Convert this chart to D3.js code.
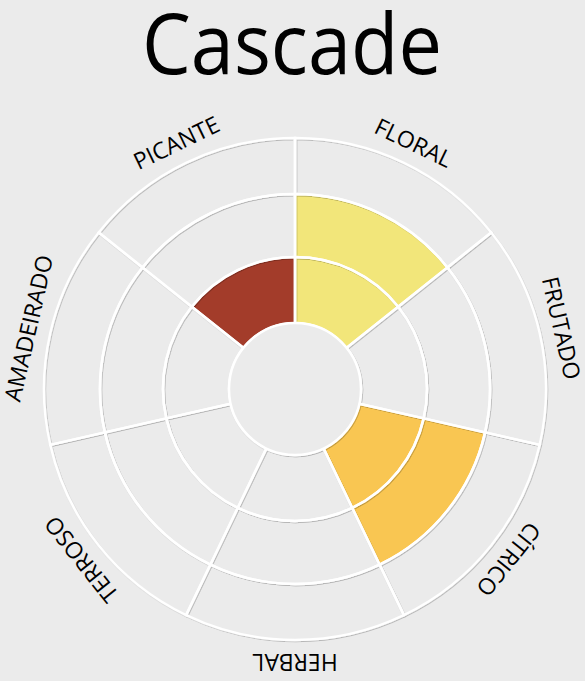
<!DOCTYPE html>
<html>
<head>
<meta charset="utf-8">
<script src="https://cdn.jsdelivr.net/npm/d3@7"></script>
<style>
  body { margin: 0; background: #ebebeb; }
  svg { display: block; }
  .label { font-family: "Open Sans", sans-serif; font-size: 23px; fill: #000; }
  .title { font-family: "Open Sans", sans-serif; font-size: 84px; fill: #000; }
</style>
</head>
<body>
<script>
// aroma categories, clockwise from the top
const categories = ["FLORAL", "FRUTADO", "CÍTRICO", "HERBAL", "TERROSO", "AMADEIRADO", "PICANTE"];
const intensity = [2, 0, 2, 0, 0, 0, 1];
const colors = ["#f2e67a", "#e8913a", "#f9c652", "#8fae4a", "#8a6a45", "#b07a4a", "#a33c2a"];
const levels = [1, 2, 3];
const title = "Cascade";

const width = 585, height = 681;
const cx = 295, cy = 389;
const bg = "#ebebeb";

const svg = d3.select("body").append("svg")
    .attr("width", width)
    .attr("height", height);

svg.append("rect").attr("width", width).attr("height", height).attr("fill", bg);

const defs = svg.append("defs");
const shadow = defs.append("filter").attr("id", "shadow")
    .attr("x", "-10%").attr("y", "-10%").attr("width", "120%").attr("height", "120%");
shadow.append("feDropShadow")
    .attr("dx", 0.8).attr("dy", 1)
    .attr("stdDeviation", 0.6)
    .attr("flood-color", "#000")
    .attr("flood-opacity", 0.22);

// radius per ring level (0 = inner hole)
const r = d3.scaleLinear().domain([0, 1, 2, 3]).range([66, 132, 195, 251]);
const angle = d3.scaleBand().domain(categories).range([0, 2 * Math.PI]);

const arc = d3.arc()
    .innerRadius(d => r(d.level - 1))
    .outerRadius(d => r(d.level))
    .startAngle(d => angle(d.cat))
    .endAngle(d => angle(d.cat) + angle.bandwidth());

const cells = [];
categories.forEach((c, i) => {
  levels.forEach(l => {
    cells.push({cat: c, level: l, filled: l <= intensity[i], color: colors[i]});
  });
});

const g = svg.append("g").attr("transform", `translate(${cx},${cy})`);

// fills
g.append("g").selectAll("path")
  .data(cells)
  .join("path")
    .attr("d", arc)
    .attr("fill", d => d.filled ? d.color : bg);

// grid lines on top with a soft shadow
const grid = g.append("g").attr("filter", "url(#shadow)");
grid.selectAll("path")
  .data(cells)
  .join("path")
    .attr("d", arc)
    .attr("fill", "none")
    .attr("stroke", "#fff")
    .attr("stroke-width", 2.5);

grid.append("circle")
    .attr("r", r(0))
    .attr("fill", bg)
    .attr("stroke", "#fff")
    .attr("stroke-width", 2.5);

// labels, rotated to follow the ring
g.append("g").selectAll("text")
  .data(categories)
  .join("text")
    .attr("class", "label")
    .attr("text-anchor", "middle")
    .attr("transform", d => {
      const a = (angle(d) + angle.bandwidth() / 2) * 180 / Math.PI;
      return `rotate(${a}) translate(0,${-265})`;
    })
    .text(d => d);

svg.append("text")
    .attr("class", "title")
    .attr("x", 292)
    .attr("y", 74)
    .attr("text-anchor", "middle")
    .attr("textLength", 300)
    .attr("lengthAdjust", "spacingAndGlyphs")
    .text(title);
</script>
</body>
</html>
